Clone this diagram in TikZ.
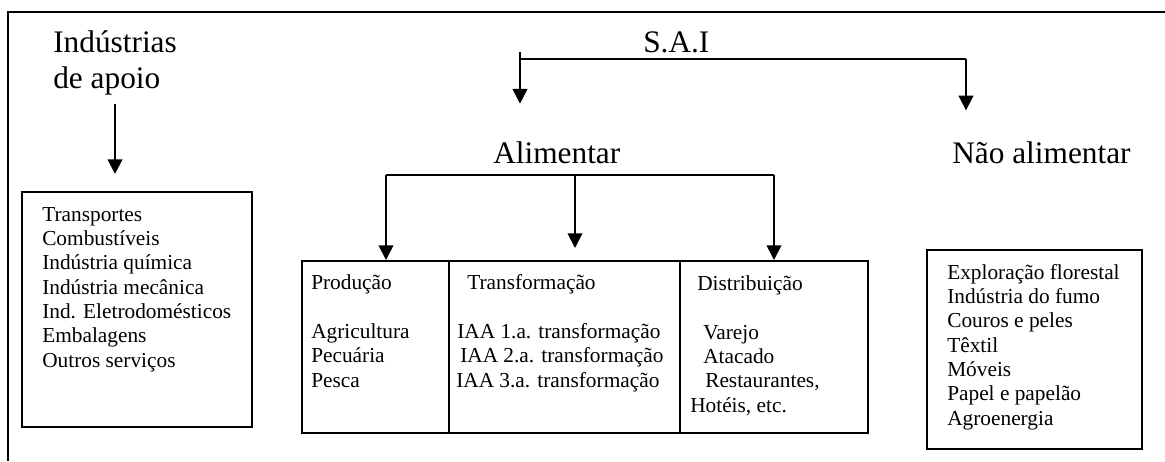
\documentclass[tikz,border=0pt]{standalone}
\usepackage{fontspec}
\setmainfont{Liberation Serif}
\usetikzlibrary{arrows.meta}
\tikzset{
  linha/.style={line width=1.4pt},
  seta/.style={line width=1.4pt,-{Triangle[length=11pt,width=11pt]}},
  caixa/.style={draw,line width=1.4pt,inner sep=0pt,anchor=north west},
  texto/.style={inner sep=0pt,anchor=base west,align=left,font=\fontsize{16}{18.2}\selectfont},
  titulo/.style={inner sep=0pt,anchor=base west,align=left,font=\fontsize{23.5}{27}\selectfont}
}
\begin{document}
\begin{tikzpicture}[x=0.75pt,y=0.75pt,yscale=-1,xscale=1]
        \useasboundingbox (0,0) rectangle (1165,461);

        %Shape: Frame
        \draw [linha] (1165,12) -- (8,12) -- (8,461) ;

        %Shape: Rectangle
        \node [caixa,minimum width=172.5pt,minimum height=176.25pt] (apoio) at (21,191) {};
        %Shape: Rectangle
        \node [caixa,minimum width=110.25pt,minimum height=129pt] (prod) at (301,260) {};
        %Shape: Rectangle
        \node [caixa,minimum width=173.25pt,minimum height=129pt] (transf) at (448,260) {};
        %Shape: Rectangle
        \node [caixa,minimum width=141pt,minimum height=129pt] (dist) at (679,260) {};
        %Shape: Rectangle
        \node [caixa,minimum width=161.25pt,minimum height=149.25pt] (naoal) at (926,249) {};

        % Text Node (base = last line)
        \node [titulo] (ind) at (53,88) {Indústrias\\de apoio};
        % Text Node
        \node [titulo] (sai) at (643,52) {S.A.I};
        % Text Node
        \node [titulo] (alim) at (493,163) {Alimentar};
        % Text Node
        \node [titulo] (nalim) at (952,163) {Não alimentar};

        % Text Node
        \node [texto] (lapoio) at (42,367) {Transportes\\Combustíveis\\Indústria química\\Indústria mecânica\\Ind. Eletrodomésticos\\Embalagens\\Outros serviços};
        % Text Node
        \node [texto] (lprod) at (311,387) {Produção\\[18.2pt]Agricultura\\Pecuária\\Pesca};
        % Text Node
        \node [texto] (ltransf) at (456,387) {\hspace*{8.25pt}Transformação\\[18.2pt]\hspace*{0.75pt}IAA 1.a. transformação\\\hspace*{3pt}IAA 2.a. transformação\\IAA 3.a. transformação};
        % Text Node
        \node [texto] (ldist) at (690,412) {\hspace*{5.25pt}Distribuição\\[18.2pt]\hspace*{9.75pt}Varejo\\\hspace*{9.75pt}Atacado\\\hspace*{11.25pt}Restaurantes,\\Hotéis, etc.};
        % Text Node
        \node [texto] (lnaoal) at (947,425) {Exploração florestal\\Indústria do fumo\\Couros e peles\\Têxtil\\Móveis\\Papel e papelão\\Agroenergia};

        \coordinate (c1) at (115,104);
        \coordinate (sl) at (520,59);
        \coordinate (sr) at (966,59);
        \coordinate (bl) at (386,175);
        \coordinate (bm) at (575,175);
        \coordinate (br) at (774,175);

        %Straight Lines
        \draw [seta,shorten >=12.75pt] (c1) -- (apoio.north -| c1) ;
        %Straight Lines
        \draw [linha] (sl) ++(0,-7) -- (sl) -- (sr) ;
        \draw [seta,shorten >=28pt] (sl) -- (alim.north -| sl) ;
        \draw [seta,shorten >=23pt] (sr) -- (nalim.north -| sr) ;
        %Straight Lines
        \draw [linha] (bl) -- (br) ;
        \draw [seta] (bl) -- (prod.north -| bl) ;
        \draw [seta,shorten >=9pt] (bm) -- (transf.north -| bm) ;
        \draw [seta] (br) -- (dist.north -| br) ;

\end{tikzpicture}
\end{document}
